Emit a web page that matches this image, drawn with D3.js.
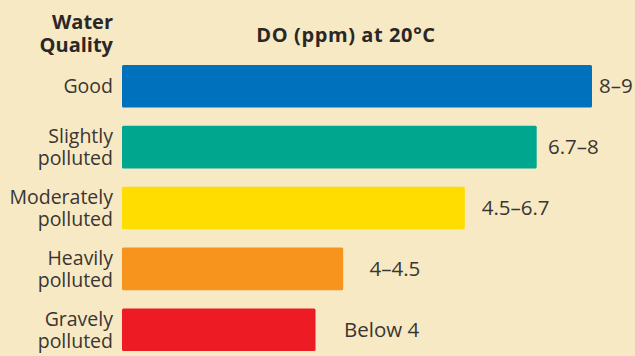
<!DOCTYPE html>
<html>
<head>
<meta charset="utf-8">
<script src="https://cdn.jsdelivr.net/npm/d3@7"></script>
<style>
  html, body { margin: 0; padding: 0; background: #f7e9c3; }
  svg { display: block; }
  text { font-family: "Open Sans", "Noto Sans", sans-serif; fill: #2b2726; }
</style>
</head>
<body>
<svg id="chart" width="635" height="356"></svg>
<script>
// Water quality classes and their dissolved-oxygen ranges
const categories = [
  ["Good"],
  ["Slightly", "polluted"],
  ["Moderately", "polluted"],
  ["Heavily", "polluted"],
  ["Gravely", "polluted"]
];
const upperValues = [9, 8, 6.7, 4.5, 4];
const rangeLabels = ["8–9", "6.7–8", "4.5–6.7", "4–4.5", "Below 4"];
const barColors = ["#0071bc", "#00a68e", "#ffdd00", "#f7941d", "#ed1c24"];

const svg = d3.select("#chart");

const x = d3.scaleLinear().domain([0.5, 9]).range([122, 592]);
const labelX = d3.scaleLinear().domain([4, 9]).range([344, 599]);
const y = d3.scaleBand()
  .domain(d3.range(categories.length))
  .range([65, 351])
  .paddingInner(0.3)
  .paddingOuter(0);

// Headings
svg.append("text")
  .attr("x", 113).attr("y", 29)
  .attr("text-anchor", "end")
  .style("font-weight", "700").style("font-size", "20px")
  .text("Water");
svg.append("text")
  .attr("x", 113).attr("y", 52)
  .attr("text-anchor", "end")
  .style("font-weight", "700").style("font-size", "20px")
  .text("Quality");
svg.append("text")
  .attr("x", 346).attr("y", 42)
  .attr("text-anchor", "middle")
  .style("font-weight", "700").style("font-size", "20px")
  .style("letter-spacing", "0.6px")
  .text("DO (ppm) at 20°C");

const rows = svg.append("g").selectAll("g")
  .data(d3.range(categories.length))
  .join("g");

rows.append("rect")
  .attr("x", x(0.5))
  .attr("y", i => y(i))
  .attr("width", i => x(upperValues[i]) - x(0.5))
  .attr("height", y.bandwidth())
  .attr("rx", 1.5)
  .attr("fill", i => barColors[i]);

// Category names, right-aligned, one or two lines centred on the bar
rows.each(function(i) {
  const lines = categories[i];
  const cy = y(i) + y.bandwidth() / 2;
  const lh = 22;
  const first = cy + 7 - (lines.length - 1) * lh / 2;
  const t = d3.select(this).append("text")
    .attr("text-anchor", "end")
    .style("font-size", "19.5px")
    .style("fill", "#3a3533");
  lines.forEach((ln, k) => {
    t.append("tspan").attr("x", 113).attr("y", first + k * lh).text(ln);
  });
});

// Range labels beside each bar
rows.append("text")
  .attr("x", i => labelX(upperValues[i]))
  .attr("y", i => y(i) + y.bandwidth() / 2 + 7)
  .style("font-size", "20.5px")
  .style("fill", "#3a3533")
  .text(i => rangeLabels[i]);
</script>
</body>
</html>
